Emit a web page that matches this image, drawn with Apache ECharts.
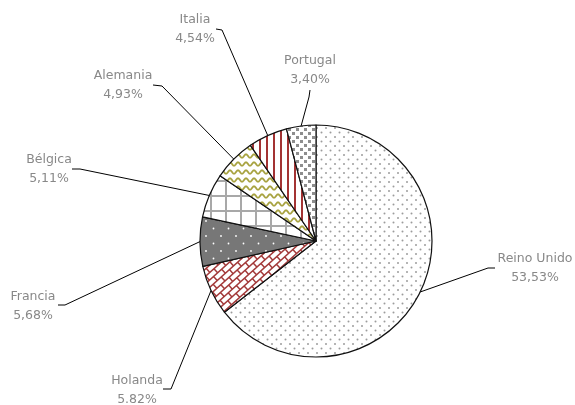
<!DOCTYPE html>
<html><head><meta charset="utf-8">
<script src="https://cdn.jsdelivr.net/npm/echarts@6/dist/echarts.min.js"></script>
<style>html,body{margin:0;padding:0;background:#fff}#c{width:575px;height:405px}</style>
</head><body><div id="c"></div>
<script>
// ---- data ----
const categories = ['Reino Unido', 'Holanda', 'Francia', 'Bélgica', 'Alemania', 'Italia', 'Portugal'];
const values = [53.53, 5.82, 5.68, 5.11, 4.93, 4.54, 3.40];
const valueLabels = ['53,53%', '5.82%', '5,68%', '5,11%', '4,93%', '4,54%', '3,40%'];

// ---- label layout (text block centre, leader elbow, leader end) ----
const labelLayoutPos = [
  { x: 535, y: 268, elbow: [488, 268], end: [495, 268] },
  { x: 137, y: 390, elbow: [171, 389], end: [163, 389] },
  { x: 33,  y: 306, elbow: [65, 305],  end: [58, 305] },
  { x: 49,  y: 169, elbow: [80, 169],  end: [72, 169] },
  { x: 123, y: 85,  elbow: [162, 86],  end: [153, 85] },
  { x: 195, y: 29,  elbow: [222, 30],  end: [216, 29] },
  { x: 310, y: 70,  elbow: [309, 97],  end: [310, 90] }
];

// ---- pattern fills ----
function tile(w, h, draw) {
  const c = document.createElement('canvas');
  c.width = w; c.height = h;
  const g = c.getContext('2d');
  draw(g, w, h);
  return c;
}
function dot(g, x, y, r) { g.beginPath(); g.arc(x, y, r, 0, Math.PI * 2); g.fill(); }

const patReino = tile(9, 9, (g) => {
  g.fillStyle = '#fff'; g.fillRect(0, 0, 9, 9);
  g.fillStyle = '#9c9c9c'; dot(g, 2, 2, 1); dot(g, 6.5, 6.5, 1);
});
const patHolanda = tile(575, 405, (g, w, h) => {
  g.fillStyle = '#fff'; g.fillRect(0, 0, w, h);
  g.save();
  g.translate(w / 2, h / 2);
  g.rotate(-42 * Math.PI / 180);
  g.strokeStyle = '#a33a3a'; g.lineWidth = 1.5;
  const L = 11, H = 5.5;
  g.beginPath();
  for (let k = -90; k <= 90; k++) {
    g.moveTo(-500, k * H); g.lineTo(500, k * H);
    const off = (k % 2 === 0) ? 0 : L / 2;
    for (let j = -50; j <= 50; j++) {
      const x = j * L + off;
      g.moveTo(x, k * H); g.lineTo(x, (k + 1) * H);
    }
  }
  g.stroke();
  g.restore();
});
const patFrancia = tile(15, 15, (g) => {
  g.fillStyle = '#777'; g.fillRect(0, 0, 15, 15);
  g.fillStyle = '#fff'; dot(g, 3.5, 3.5, 0.9); dot(g, 11, 11, 0.9);
});
const patBelgica = tile(15, 15, (g) => {
  g.fillStyle = '#fff'; g.fillRect(0, 0, 15, 15);
  g.fillStyle = '#a8a8a8'; g.fillRect(0, 0, 15, 2); g.fillRect(0, 0, 2, 15);
});
const patAlemania = tile(8, 8, (g) => {
  g.fillStyle = '#fff'; g.fillRect(0, 0, 8, 8);
  g.strokeStyle = '#a7a23f'; g.lineWidth = 1.8;
  g.beginPath();
  for (let x = -1; x <= 9; x += 0.25) {
    const y = 4 + 1.7 * Math.sin(2 * Math.PI * x / 8);
    if (x === -1) g.moveTo(x, y); else g.lineTo(x, y);
  }
  g.stroke();
});
const patItalia = tile(7, 1, (g) => {
  g.fillStyle = '#fff'; g.fillRect(0, 0, 7, 1);
  g.fillStyle = '#a33333'; g.fillRect(0, 0, 2, 1);
});
const patPortugal = tile(8, 8, (g) => {
  g.fillStyle = '#fff'; g.fillRect(0, 0, 8, 8);
  g.fillStyle = '#8e8e8e'; g.fillRect(0, 0, 3, 3); g.fillRect(4, 4, 3, 3);
});
const patterns = [patReino, patHolanda, patFrancia, patBelgica, patAlemania, patItalia, patPortugal];

const chart = echarts.init(document.getElementById('c'), null, { renderer: 'canvas' });
chart.setOption({
  animation: false,
  backgroundColor: '#fff',
  series: [{
    type: 'pie',
    center: [316, 241],
    radius: 116,
    startAngle: 90,
    clockwise: true,
    avoidLabelOverlap: false,
    emphasis: { disabled: true },
    data: categories.map((name, i) => ({
      name, value: values[i],
      itemStyle: { color: { image: patterns[i], repeat: 'repeat' } }
    })),
    itemStyle: { borderColor: '#111', borderWidth: 1.2 },
    label: {
      show: true,
      position: 'outside',
      formatter: (p) => p.name + '\n' + valueLabels[p.dataIndex],
      fontFamily: 'DejaVu Sans',
      fontSize: 12.5,
      lineHeight: 19,
      color: '#888',
      align: 'center'
    },
    labelLine: { show: true, length: 10, length2: 10, lineStyle: { color: '#000', width: 1 } },
    labelLayout: (params) => {
      const L = labelLayoutPos[params.dataIndex];
      const p0 = params.labelLinePoints ? params.labelLinePoints[0] : L.elbow;
      return {
        x: L.x, y: L.y, align: 'center', verticalAlign: 'middle',
        labelLinePoints: [p0, L.elbow, L.end]
      };
    }
  }]
});
</script>
</body></html>
